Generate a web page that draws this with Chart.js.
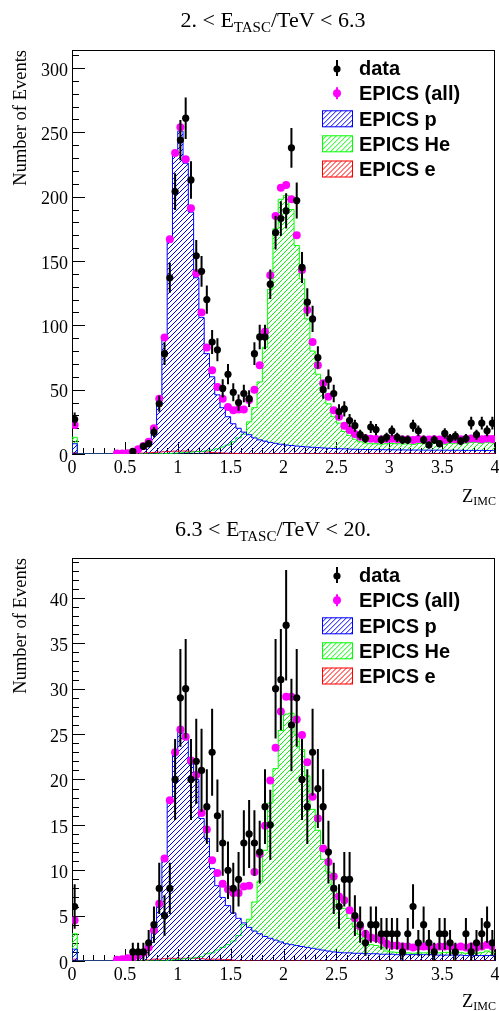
<!DOCTYPE html>
<html>
<head>
<meta charset="utf-8">
<script src="https://cdn.jsdelivr.net/npm/chart.js@4.4.0/dist/chart.umd.min.js"></script>
<style>
  html, body { margin: 0; padding: 0; background: #fff; }
  canvas { display: block; }
</style>
</head>
<body>
<canvas id="lowE" width="499" height="507"></canvas>
<canvas id="highE" width="499" height="504"></canvas>
<script>
// Z_IMC histograms, 80 bins of 0.05 from 0 to 4
const binWidth = 0.05;

// 2. < E_TASC/TeV < 6.3
const lowData = [27, 0, 0, 0, 0, 0, 0, 0, 0, 0, 0, 2, 0, 6, 8, 17, 39, 78, 137, 204,
  244, 261, 213, 154, 142, 120, 87, 81, 51, 62, 48, 40, 47, 43, 78, 91, 91, 132, 172, 183,
  189, 238, 197, 145, 118, 105, 75, 50, 58, 47, 33, 35, 26, 22, 15, 12, 21, 19, 11, 13,
  18, 13, 11, 11, 22, 18, 11, 7, 11, 8, 16, 12, 14, 10, 12, 24, 15, 24, 18, 24];
const lowAll = [22.5, 0, 0, 0, 0, 0, 0, 0, 0.3, 0.4, 0.6, 1.3, 3.6, 6.2, 9.6, 20, 43, 90.6, 167, 234,
  254, 229, 191, 140.5, 110, 82.8, 65, 52, 43, 36.5, 34, 34.5, 34.5, 42, 50, 69, 95, 139, 185, 207,
  209, 198, 170, 143, 112, 87, 69, 55, 44.5, 34, 29, 22, 18.6, 15.5, 13.5, 12.2, 11.8, 11.6, 11.2, 11.6,
  11.8, 11.4, 11.2, 11.2, 10.8, 11.6, 11.3, 11.2, 11.4, 11.2, 10.8, 11.4, 11.4, 11.4, 11.4, 12, 12, 11.4, 12, 11.6];
const lowP = [8, 0, 0, 0, 0, 0, 0, 0, 0.3, 0.4, 0.6, 1.3, 3.5, 6, 9.3, 19.5, 42, 89, 165, 232,
  251, 226, 188, 137, 106, 78, 60, 46, 36, 29, 23.5, 20, 17, 15, 12.5, 11, 10, 9, 8.3, 7.6,
  7, 6.6, 6.2, 5.8, 5.5, 5.2, 5, 4.7, 4.5, 4.3, 4.1, 4, 3.8, 3.7, 3.6, 3.5, 3.5, 3.4, 3.4, 3.3,
  3.3, 3.2, 3.2, 3.1, 3.1, 3.1, 3, 3, 3, 3, 3, 2.9, 2.9, 2.9, 2.8, 2.8, 2.8, 2.8, 2.7, 2.7];
const lowHe = [13, 0, 0, 0, 0, 0, 0, 0, 0, 0, 0, 0, 0, 0, 0, 0, 0.2, 0.3, 0.5, 0.7,
  1, 1.2, 1.5, 1.8, 2, 2.5, 3, 4, 5.5, 7, 9.5, 12.5, 15.5, 25, 36, 56, 83, 128, 175, 198,
  201, 190, 162, 136, 105, 80, 62, 49, 39, 29, 24, 17.5, 14.5, 11.5, 9.5, 8.5, 8, 8, 7.6, 8,
  8.2, 8, 7.8, 7.9, 7.5, 8.3, 8, 8, 8.2, 8, 7.6, 8.3, 8.3, 8.3, 8.4, 9, 9, 8.4, 9.1, 8.7];
const lowEl = [1, 0, 0, 0, 0, 0, 0, 0, 0, 0, 0.2, 0.3, 0.5, 0.7, 1, 1.2, 1.5, 1.8, 2, 2.2,
  2.3, 2.3, 2.2, 2, 1.8, 1.5, 1.2, 1, 0.8, 0.6, 0.5, 0.4, 0.3, 0.2, 0.2, 0.2, 0.2, 0.2, 0.2, 0.2,
  0.2, 0.2, 0.2, 0.2, 0.2, 0.2, 0.2, 0.2, 0.2, 0.2, 0.2, 0.2, 0.2, 0.2, 0.2, 0.2, 0.2, 0.2, 0.2, 0.2,
  0.2, 0.2, 0.2, 0.2, 0.2, 0.2, 0.2, 0.2, 0.2, 0.2, 0.2, 0.2, 0.2, 0.2, 0.2, 0.2, 0.2, 0.2, 0.2, 0.2];

// 6.3 < E_TASC/TeV < 20.
const highData = [6, 0, 0, 0, 0, 0, 0, 0, 0, 0, 0, 1, 1, 1, 2, 4, 8, 5, 8, 20,
  29, 30, 20, 22, 21, 17, 23, 16, 13, 10, 8, 9, 13, 14, 13, 12, 17, 15, 30, 31,
  37, 26, 29, 20, 17, 23, 19, 17, 12, 8, 6, 9, 9, 5, 4, 2, 4, 4, 3, 3,
  3, 3, 1, 3, 6, 2, 4, 2, 1, 3, 3, 2, 1, 0, 3, 1, 2, 3, 4, 2];
const highAll = [4.5, 0, 0, 0, 0, 0, 0, 0, 0.15, 0.2, 0.3, 0.4, 0.6, 0.9, 1.5, 3.4, 6.3, 11.3, 17.7, 23,
  25.5, 24.7, 22.1, 20.5, 16.3, 14.5, 11.1, 9.7, 8.5, 7.9, 7.5, 7.5, 8.2, 8.3, 9.8, 11.8, 14.9, 19.9, 23.5, 27.5,
  29.1, 29.1, 26.6, 24.9, 21.9, 18.1, 15.7, 12.4, 10.9, 9.3, 7.1, 6.7, 5.6, 4.7, 3.8, 3.0, 2.6, 2.5, 2.3, 1.9,
  1.7, 1.7, 1.6, 1.6, 1.5, 1.6, 1.6, 1.6, 1.5, 1.6, 1.6, 1.6, 1.5, 1.6, 1.5, 1.6, 1.5, 1.6, 1.8, 1.6];
const highP = [1.3, 0, 0, 0, 0, 0, 0, 0, 0.15, 0.2, 0.3, 0.4, 0.6, 0.9, 1.5, 3.3, 6.2, 11.2, 17.5, 22.8,
  25.2, 24.4, 21.7, 20, 15.7, 13.5, 10.2, 8.3, 7, 6.1, 5.3, 4.7, 4.2, 3.7, 3.3, 3, 2.7, 2.5, 2.3, 2.1,
  1.9, 1.8, 1.7, 1.6, 1.5, 1.4, 1.3, 1.2, 1.1, 1.0, 0.95, 0.9, 0.9, 0.85, 0.85, 0.8, 0.8, 0.8, 0.75, 0.75,
  0.75, 0.7, 0.7, 0.7, 0.7, 0.7, 0.7, 0.7, 0.65, 0.65, 0.65, 0.65, 0.65, 0.65, 0.6, 0.6, 0.6, 0.6, 0.6, 0.6];
const highHe = [3, 0, 0, 0, 0, 0, 0, 0, 0, 0, 0, 0, 0, 0, 0, 0, 0, 0, 0.1, 0.15,
  0.2, 0.25, 0.3, 0.4, 0.5, 0.8, 0.9, 1.2, 1.5, 1.8, 2.2, 2.8, 4, 4.6, 6.5, 8.8, 12.2, 17.4, 21.2, 25.4,
  27.2, 27.3, 24.9, 23.3, 20.4, 16.7, 14.4, 11.2, 9.8, 8.3, 6.2, 5.8, 4.7, 3.8, 2.9, 2.1, 1.8, 1.7, 1.5, 1.1,
  1.0, 0.95, 0.9, 0.9, 0.85, 0.9, 0.9, 0.9, 0.85, 0.9, 0.95, 0.95, 0.85, 0.95, 0.85, 0.95, 0.85, 0.95, 1.1, 0.95];
const highEl = [0.2, 0, 0, 0, 0, 0, 0, 0, 0, 0, 0, 0, 0, 0, 0.1, 0.2, 0.2, 0.25, 0.3, 0.3,
  0.3, 0.3, 0.3, 0.3, 0.25, 0.2, 0.2, 0.2, 0.15, 0.15, 0.1, 0, 0, 0, 0, 0, 0, 0, 0, 0,
  0, 0, 0, 0, 0, 0, 0, 0, 0, 0, 0, 0, 0, 0, 0, 0, 0, 0, 0, 0,
  0, 0, 0, 0, 0, 0, 0, 0, 0, 0, 0, 0, 0, 0, 0, 0, 0, 0, 0, 0];

const legendLabels = ['data', 'EPICS (all)', 'EPICS p', 'EPICS He', 'EPICS e'];

const serif = "'Liberation Serif', 'Times New Roman', serif";
const sans = "'Liberation Sans', Arial, sans-serif";

// points at bin centres, empty bins are not drawn
function centers(vals) {
  return vals.map((v, i) => ({ x: (i + 0.5) * binWidth, y: v > 0 ? v : null }));
}

// outline of a histogram, steps change at the bin edges
function steps(vals) {
  const pts = [{ x: 0, y: 0 }, { x: 0, y: vals[0] }];
  vals.forEach((v, i) => pts.push({ x: (i + 0.5) * binWidth, y: v }));
  pts.push({ x: vals.length * binWidth, y: vals[vals.length - 1] });
  return pts;
}

// "/" hatch lines over a box, the caller sets the clip
function strokeHatch(ctx, l, t, r, b, color) {
  const h = b - t;
  ctx.strokeStyle = color;
  ctx.lineWidth = 1;
  ctx.beginPath();
  for (let s = l - h; s < r; s += 5) {
    ctx.moveTo(s, b);
    ctx.lineTo(s + h, t);
  }
  ctx.stroke();
}

function drawSub(ctx, parts, x, base, big, small, drop, align) {
  ctx.font = big + 'px ' + serif;
  const w0 = ctx.measureText(parts[0]).width;
  const w2 = parts[2] ? ctx.measureText(parts[2]).width : 0;
  ctx.font = small + 'px ' + serif;
  const w1 = ctx.measureText(parts[1]).width;
  const total = w0 + w1 + w2;
  const x0 = align === 'center' ? x - total / 2 : x - total;
  ctx.textAlign = 'left';
  ctx.textBaseline = 'alphabetic';
  ctx.font = big + 'px ' + serif;
  ctx.fillText(parts[0], x0, base);
  if (parts[2]) ctx.fillText(parts[2], x0 + w0 + w1, base);
  ctx.font = small + 'px ' + serif;
  ctx.fillText(parts[1], x0 + w0, base + drop);
}

// ROOT style frame with ticks inside the pad
const frameTicks = {
  id: 'frameTicks',
  beforeDatasetsDraw(chart, args, opts) {
    const { ctx, chartArea: a, scales: { x, y } } = chart;
    ctx.save();
    ctx.strokeStyle = '#000';
    ctx.lineWidth = 1;
    ctx.beginPath();
    for (let k = 0; k <= 40; k++) {
      const px = Math.round(x.getPixelForValue(k * 0.1)) + 0.5;
      const len = k % 5 === 0 ? 12 : 6;
      ctx.moveTo(px, a.bottom);
      ctx.lineTo(px, a.bottom - len);
    }
    const nMinor = Math.floor(y.max / opts.minor + 1e-6);
    for (let k = 0; k <= nMinor; k++) {
      const py = Math.round(y.getPixelForValue(k * opts.minor)) + 0.5;
      const len = k % 5 === 0 ? 13 : 7;
      ctx.moveTo(a.left, py);
      ctx.lineTo(a.left + len, py);
    }
    ctx.stroke();
    ctx.strokeRect(a.left + 0.5, a.top + 0.5, a.right - a.left - 1, a.bottom - a.top - 1);
    ctx.restore();
  }
};

// hatched area under each histogram outline
const hatching = {
  id: 'hatching',
  beforeDatasetDraw(chart, args) {
    const ds = chart.data.datasets[args.index];
    if (!ds.hatch) return;
    const { ctx, chartArea: a, scales: { y } } = chart;
    const line = args.meta.dataset;
    const pts = line.points;
    const y0 = y.getPixelForValue(0);
    ctx.save();
    ctx.beginPath();
    ctx.rect(a.left, a.top, a.right - a.left, a.bottom - a.top);
    ctx.clip();
    ctx.beginPath();
    line.path(ctx);
    ctx.lineTo(pts[pts.length - 1].x, y0);
    ctx.lineTo(pts[0].x, y0);
    ctx.closePath();
    ctx.clip();
    strokeHatch(ctx, a.left, a.top, a.right, a.bottom, ds.hatch);
    ctx.restore();
  }
};

// sqrt(N) error bars under the data markers
const errorBars = {
  id: 'errorBars',
  beforeDatasetDraw(chart, args) {
    if (args.index !== 0) return;
    const { ctx, chartArea: a, scales: { x, y } } = chart;
    ctx.save();
    ctx.beginPath();
    ctx.rect(a.left, a.top, a.right - a.left, a.bottom - a.top);
    ctx.clip();
    ctx.strokeStyle = '#000';
    ctx.lineWidth = 2;
    ctx.beginPath();
    chart.data.datasets[0].data.forEach(p => {
      if (p.y == null) return;
      const err = Math.sqrt(p.y);
      const px = x.getPixelForValue(p.x);
      ctx.moveTo(px, y.getPixelForValue(p.y - err));
      ctx.lineTo(px, y.getPixelForValue(p.y + err));
    });
    ctx.stroke();
    ctx.restore();
  }
};

// titles, axis titles and the legend
const decor = {
  id: 'decor',
  afterDraw(chart, args, o) {
    const { ctx, chartArea: a } = chart;
    ctx.save();
    ctx.fillStyle = '#000';
    drawSub(ctx, o.title, 273, o.titleBase, 22, 15, 5, 'center');
    drawSub(ctx, ['Z', 'IMC', ''], 496, o.zBase, 18.5, 12, 3.5, 'right');

    ctx.save();
    ctx.translate(26, a.top);
    ctx.rotate(-Math.PI / 2);
    ctx.font = '18.5px ' + serif;
    ctx.textAlign = 'right';
    ctx.textBaseline = 'alphabetic';
    ctx.fillText('Number of Events', 0, 0);
    ctx.restore();

    const rows = [68, 93.3, 118.8, 143.8, 169];
    const mx = 337;
    // data marker with error bar
    ctx.strokeStyle = '#000';
    ctx.lineWidth = 2;
    ctx.beginPath();
    ctx.moveTo(mx, rows[0] - 8);
    ctx.lineTo(mx, rows[0] + 8);
    ctx.stroke();
    ctx.beginPath();
    ctx.arc(mx, rows[0] + 1, 3.6, 0, Math.PI * 2);
    ctx.fill();
    // EPICS (all) marker
    ctx.strokeStyle = '#ff00ff';
    ctx.fillStyle = '#ff00ff';
    ctx.beginPath();
    ctx.moveTo(mx, rows[1] - 6);
    ctx.lineTo(mx, rows[1] + 6);
    ctx.stroke();
    ctx.beginPath();
    ctx.arc(mx, rows[1], 4, 0, Math.PI * 2);
    ctx.fill();
    // hatched boxes
    [2, 3, 4].forEach(k => {
      const ds = chart.data.datasets[k];
      ctx.save();
      ctx.beginPath();
      ctx.rect(322, rows[k] - 8.5, 31, 17);
      ctx.clip();
      strokeHatch(ctx, 322, rows[k] - 8.5, 353, rows[k] + 8.5, ds.hatch);
      ctx.restore();
      ctx.lineWidth = 1;
      ctx.strokeStyle = ds.borderColor;
      ctx.strokeRect(322.5, rows[k] - 8, 30, 16);
    });
    ctx.fillStyle = '#000';
    ctx.font = 'bold 20px ' + sans;
    ctx.textAlign = 'left';
    ctx.textBaseline = 'alphabetic';
    legendLabels.forEach((t, k) => ctx.fillText(t, 359, rows[k] + 7));
    ctx.restore();
  }
};

function makePanel(id, set, opt) {
  const canvas = document.getElementById(id);
  const ctx = canvas.getContext('2d');
  const H = canvas.height;
  const hist = (vals, color, order) => ({
    data: steps(vals), stepped: 'middle', borderColor: color, borderWidth: 1,
    backgroundColor: 'transparent', hatch: color, fill: false, pointRadius: 0, order
  });
  return new Chart(ctx, {
    type: 'line',
    data: {
      datasets: [
        { label: legendLabels[0], data: centers(set.data), showLine: false, pointRadius: 3.6,
          pointBackgroundColor: '#000000', pointBorderWidth: 0, order: 0 },
        { label: legendLabels[1], data: centers(set.all), showLine: false, pointRadius: 4,
          pointBackgroundColor: '#ff00ff', pointBorderWidth: 0, order: 1 },
        Object.assign(hist(set.p, '#0000ff', 2), { label: legendLabels[2] }),
        Object.assign(hist(set.he, '#00ff00', 3), { label: legendLabels[3] }),
        Object.assign(hist(set.e, '#ff0000', 4), { label: legendLabels[4] })
      ]
    },
    options: {
      responsive: false,
      devicePixelRatio: 1,
      animation: false,
      events: [],
      layout: { padding: { top: opt.top, right: 3, left: 0, bottom: 0 } },
      scales: {
        x: {
          type: 'linear', min: 0, max: 4,
          grid: { display: false, drawTicks: false },
          border: { display: false },
          ticks: { stepSize: 0.5, color: '#000', padding: 3, maxRotation: 0,
                   font: { family: serif, size: 18 },
                   callback: v => String(Math.round(v * 10) / 10) },
          afterFit(s) { s.height = H - 454; s.paddingLeft = 0; s.paddingRight = 0; }
        },
        y: {
          min: 0, max: opt.ymax,
          grid: { display: false, drawTicks: false },
          border: { display: false },
          ticks: { stepSize: opt.major, includeBounds: false, color: '#000', padding: 4, labelOffset: 3,
                   font: { family: serif, size: 18 } },
          afterFit(s) { s.width = 72; s.paddingTop = 0; s.paddingBottom = 0; }
        }
      },
      plugins: {
        legend: { display: false },
        tooltip: { enabled: false },
        frameTicks: { minor: opt.minor },
        decor: { title: opt.title, titleBase: opt.titleBase, zBase: opt.zBase }
      }
    },
    plugins: [frameTicks, hatching, errorBars, decor]
  });
}

makePanel('lowE',
  { data: lowData, all: lowAll, p: lowP, he: lowHe, e: lowEl },
  { top: 50, ymax: 314, major: 50, minor: 10, title: ['2. < E', 'TASC', '/TeV < 6.3'], titleBase: 27, zBase: 501.5 });
makePanel('highE',
  { data: highData, all: highAll, p: highP, he: highHe, e: highEl },
  { top: 51, ymax: 44.4, major: 5, minor: 1, title: ['6.3 < E', 'TASC', '/TeV < 20.'], titleBase: 28.5, zBase: 499.5 });
</script>
</body>
</html>
